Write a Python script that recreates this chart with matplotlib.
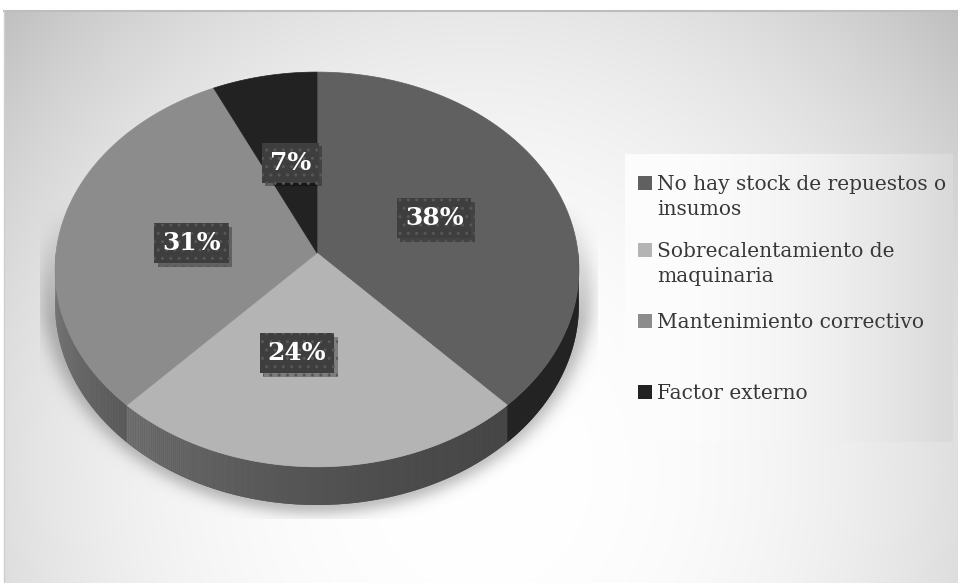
import numpy as np
import matplotlib
matplotlib.use('Agg')
import matplotlib.pyplot as plt
import matplotlib.patheffects as pe
from matplotlib.patches import Polygon, Rectangle
from matplotlib.collections import PolyCollection

categories = ['No hay stock de repuestos o\ninsumos',
              'Sobrecalentamiento de\nmaquinaria',
              'Mantenimiento correctivo',
              'Factor externo']
values = [38, 24, 31, 7]
colors = ['#606060', '#b4b4b4', '#8c8c8c', '#222222']

# pie geometry (pixels), drawn with a little perspective
cx, cy = 317, 253
rx, ry = 261, 196
depth = 35
persp = 12.0


def rim(t_deg, r=1.0):
    t = np.radians(t_deg)
    k = persp / (persp + r * np.cos(t))
    return cx + rx * r * np.sin(t) * k, cy - ry * r * np.cos(t) * k, k


def side_light(t):
    return 0.36 + 0.58 * ((t - 90) / 180) ** 2.5


def shade(hexcol, f):
    c = np.array(matplotlib.colors.to_rgb(hexcol)) * f
    return tuple(np.clip(c, 0, 1))


fig = plt.figure(figsize=(9.58, 5.83), dpi=100)
ax = fig.add_axes([0, 0, 1, 1])
ax.set_xlim(0, 958)
ax.set_ylim(583, 0)
ax.axis('off')

# background: radial gradient plus soft shadow under the pie
xs = np.arange(4, 958) + 0.5
ys = np.arange(10, 583) + 0.5
X, Y = np.meshgrid(xs, ys)
r2 = ((X - 480) / 600) ** 2 + ((Y - 470) / 650) ** 2
bg = 255 - 55 * r2 ** 1.2
rho = np.sqrt(((X - 317) / 272) ** 2 + ((Y - 290) / 221) ** 2)
sh = 0.24 * np.exp(-(np.clip(rho - 0.97, 0, None) / 0.055) ** 2)
sh *= np.clip((Y - 200) / 120, 0, 1)
sh[(X < 40) | (X > 598) | (Y > 519)] = 0
bg = bg * (1 - sh)
img = np.repeat((bg / 255)[:, :, None], 3, axis=2)
ax.imshow(img, extent=(4, 958, 583, 10), aspect='auto', zorder=0,
          interpolation='bilinear')
ax.plot([4, 958], [10.5, 10.5], color='#bdbdbd', lw=1.5, zorder=1)
ax.plot([4.5, 4.5], [10, 583], color='#cfcfcf', lw=1, zorder=1)

total = sum(values)
bounds = np.concatenate([[0], np.cumsum(values) / total * 360])

# side wall of the front half: flat base per slice, then shaded strips
quads, qcols = [], []
for i, col in enumerate(colors):
    lo, hi = max(bounds[i], 90), min(bounds[i + 1], 270)
    if lo >= hi:
        continue
    ts = np.linspace(lo, hi, int((hi - lo) * 2) + 2)
    top = [rim(t) for t in ts]
    outline = [(x, y) for x, y, k in top] + [(x, y + depth * k) for x, y, k in top[::-1]]
    ax.add_patch(Polygon(outline, closed=True, fc=shade(col, side_light(0.5 * (lo + hi))),
                         ec='none', zorder=2))
    for (xa, ya, ka), (xb, yb, kb), a, b in zip(top[:-1], top[1:], ts[:-1], ts[1:]):
        quads.append([(xa, ya), (xb, yb), (xb, yb + depth * kb), (xa, ya + depth * ka)])
        qcols.append(shade(col, side_light(0.5 * (a + b))))
ax.add_collection(PolyCollection(quads, facecolors=qcols, edgecolors='none',
                                 linewidths=0, zorder=2.5))

# top face
for i, col in enumerate(colors):
    ts = np.linspace(bounds[i], bounds[i + 1], 200)
    pts = [(cx, cy)] + [rim(t)[:2] for t in ts]
    ax.add_patch(Polygon(pts, closed=True, fc=col, ec=col, lw=0.5, zorder=3))

# percentage labels
nudge = {1: -20}
for i, v in enumerate(values):
    mid = 0.5 * (bounds[i] + bounds[i + 1])
    lx, ly, _ = rim(mid, 0.49)
    lx += nudge.get(i, 0)
    if i == 2:
        ly += 5
    t = ax.text(lx, ly, f'{v / total * 100:.0f}%', ha='center', va='center',
                family='DejaVu Serif', fontweight='bold', fontsize=18,
                color='white', zorder=6)
    t.set_bbox(dict(boxstyle='square,pad=0.32', fc='#3e3e3e', ec='#575757',
                    lw=0, hatch='..'))
    t.get_bbox_patch().set_path_effects(
        [pe.SimplePatchShadow(offset=(2.5, -2.5), shadow_rgbFace='#000000', alpha=0.3),
         pe.Normal()])

# legend panel
lx = np.arange(625, 953) + 0.5
lg = 253 - 36 * ((lx - 625) / 328) ** 2
limg = np.repeat(np.tile(lg / 255, (2, 1))[:, :, None], 3, axis=2)
ax.imshow(limg, extent=(625, 953, 442, 154), aspect='auto', zorder=4,
          interpolation='bilinear')

entry_y = [183, 250, 321, 392]
for cat, col, ey in zip(categories, colors, entry_y):
    ax.add_patch(Rectangle((638, ey - 7), 14, 14, fc=col, ec='none', zorder=5))
    for j, line in enumerate(cat.split('\n')):
        ax.text(657, ey + 7 + j * 25, line, ha='left', va='baseline',
                family='DejaVu Serif', fontsize=14.5, color='#383838', zorder=5)

fig.savefig('out.png', dpi=100)
